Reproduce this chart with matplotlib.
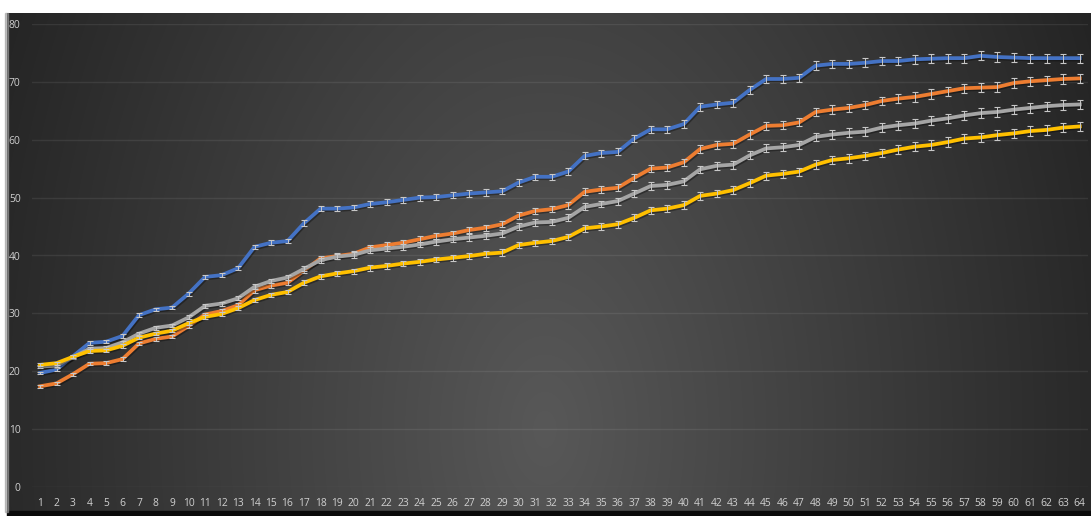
import numpy as np
import matplotlib
matplotlib.use("Agg")
import matplotlib.pyplot as plt
import matplotlib.patheffects as pe

# ---- data -------------------------------------------------------------
steps = list(range(1, 65))

series_a = [19.7, 20.3, 22.6, 24.9, 25.1, 26.1, 29.7, 30.7, 31.0, 33.4,
            36.3, 36.6, 37.8, 41.5, 42.2, 42.5, 45.6, 48.1, 48.1, 48.3,
            48.9, 49.2, 49.6, 50.0, 50.1, 50.4, 50.7, 50.9, 51.1, 52.6,
            53.6, 53.6, 54.5, 57.2, 57.7, 57.9, 60.2, 61.8, 61.8, 62.7,
            65.7, 66.1, 66.4, 68.6, 70.5, 70.5, 70.7, 72.8, 73.1, 73.1,
            73.3, 73.6, 73.6, 73.9, 74.0, 74.1, 74.1, 74.5, 74.3, 74.2,
            74.1, 74.1, 74.1, 74.1]

series_b = [17.4, 17.9, 19.5, 21.3, 21.4, 22.1, 24.8, 25.6, 26.0, 27.8,
            29.8, 30.4, 31.4, 34.0, 34.8, 35.3, 37.4, 39.5, 39.9, 40.3,
            41.4, 41.8, 42.2, 42.8, 43.4, 43.8, 44.4, 44.8, 45.4, 46.9,
            47.7, 48.0, 48.7, 51.0, 51.4, 51.7, 53.4, 55.0, 55.2, 56.1,
            58.4, 59.1, 59.3, 60.9, 62.4, 62.5, 63.0, 64.8, 65.2, 65.5,
            66.0, 66.7, 67.1, 67.4, 67.9, 68.4, 68.9, 69.0, 69.1, 69.8,
            70.1, 70.3, 70.5, 70.6]

series_c = [20.8, 21.0, 22.4, 23.9, 24.0, 25.0, 26.5, 27.5, 27.9, 29.3,
            31.3, 31.7, 32.6, 34.6, 35.6, 36.2, 37.7, 39.2, 39.8, 40.1,
            40.9, 41.2, 41.5, 41.9, 42.4, 42.8, 43.1, 43.4, 43.8, 45.0,
            45.7, 45.8, 46.5, 48.4, 48.9, 49.4, 50.7, 52.0, 52.2, 52.8,
            54.9, 55.5, 55.7, 57.3, 58.5, 58.7, 59.1, 60.5, 60.9, 61.2,
            61.4, 62.1, 62.5, 62.8, 63.3, 63.7, 64.2, 64.6, 64.8, 65.2,
            65.5, 65.8, 66.0, 66.1]

series_d = [21.1, 21.4, 22.5, 23.5, 23.6, 24.4, 25.8, 26.5, 27.0, 28.3,
            29.4, 29.9, 30.9, 32.3, 33.2, 33.7, 35.3, 36.4, 36.9, 37.3,
            37.9, 38.2, 38.6, 38.9, 39.3, 39.6, 39.9, 40.3, 40.5, 41.8,
            42.2, 42.5, 43.2, 44.7, 45.0, 45.4, 46.5, 47.8, 48.1, 48.7,
            50.3, 50.7, 51.3, 52.5, 53.8, 54.1, 54.5, 55.7, 56.5, 56.8,
            57.2, 57.7, 58.3, 58.8, 59.1, 59.6, 60.2, 60.4, 60.8, 61.1,
            61.5, 61.7, 62.1, 62.3]

# standard error at each step (shared by all four series)
step_error = [0.25, 0.25, 0.25, 0.3, 0.3, 0.3, 0.3, 0.3, 0.3, 0.35,
              0.35, 0.35, 0.35, 0.4, 0.4, 0.4, 0.45, 0.45, 0.45, 0.45,
              0.5, 0.5, 0.5, 0.5, 0.5, 0.5, 0.55, 0.55, 0.55, 0.55,
              0.55, 0.55, 0.6, 0.6, 0.6, 0.6, 0.6, 0.65, 0.65, 0.65,
              0.65, 0.65, 0.7, 0.7, 0.7, 0.7, 0.7, 0.75, 0.75, 0.75,
              0.75, 0.75, 0.75, 0.8, 0.8, 0.8, 0.8, 0.8, 0.8, 0.8,
              0.8, 0.8, 0.8, 0.8]

y_ticks = [0, 10, 20, 30, 40, 50, 60, 70, 80]

# ---- figure -----------------------------------------------------------
W, H = 1091, 516
fig = plt.figure(figsize=(W / 100, H / 100), dpi=100, facecolor="white")

# background panel with a soft radial shading
bg = fig.add_axes([0, 0, 1, 1], zorder=-5)
bg.set_xlim(0, W)
bg.set_ylim(H, 0)
bg.axis("off")
gx = np.linspace(7, W, 540)
gy = np.linspace(13, 512, 250)
X, Y = np.meshgrid(gx, gy)
r = np.sqrt(((X - 545) / 560) ** 2 + ((Y - 430) / 900) ** 2)
shade = np.clip(88 - 48 * r, 34, 90) / 255.0
bg.imshow(np.dstack([shade, shade, shade]), extent=[7, W, 512, 13],
          aspect="auto", interpolation="bilinear")
bg.add_patch(plt.Rectangle((7, 511), W - 7, 6, color="#0a0a0a"))
bg.add_patch(plt.Rectangle((5, 13), 3, 499, color="#9a9a9a", alpha=0.6))

# plotting area
ax = fig.add_axes([31.75 / W, 1 - 487 / H, (1088 - 31.75) / W, (487 - 24) / H])
ax.set_facecolor("none")
for s in ax.spines.values():
    s.set_visible(False)

ax.set_xlim(0.5, 64.5)
ax.set_ylim(0, 80)
ax.set_yticks(y_ticks)
ax.set_xticks(steps)
ax.grid(axis="y", color="#ffffff", alpha=0.08, linewidth=1.0)
ax.set_axisbelow(True)
ax.tick_params(axis="both", length=0, colors="#d0d0d0", labelsize=7.4)
ax.tick_params(axis="x", pad=8)
ax.tick_params(axis="y", pad=8)
for lab in ax.get_xticklabels() + ax.get_yticklabels():
    lab.set_family(["Open Sans", "DejaVu Sans"])

shadow = [pe.SimpleLineShadow(offset=(0.8, -1.0), shadow_color="black", alpha=0.35),
          pe.Normal()]

all_series = [
    (series_a, "#4472C4"),
    (series_b, "#ED7D31"),
    (series_c, "#A5A5A5"),
    (series_d, "#FFC000"),
]
for i, (vals, col) in enumerate(all_series):
    ax.plot(steps, vals, color=col, linewidth=2.7, solid_joinstyle="round",
            path_effects=shadow, zorder=3 + i)
    ax.errorbar(steps, vals, yerr=step_error, fmt="none", ecolor="#c8c8c8",
                elinewidth=0.7, capsize=2.4, capthick=0.8, zorder=3.5 + i)

fig.savefig("out.png", dpi=100, facecolor="white")
